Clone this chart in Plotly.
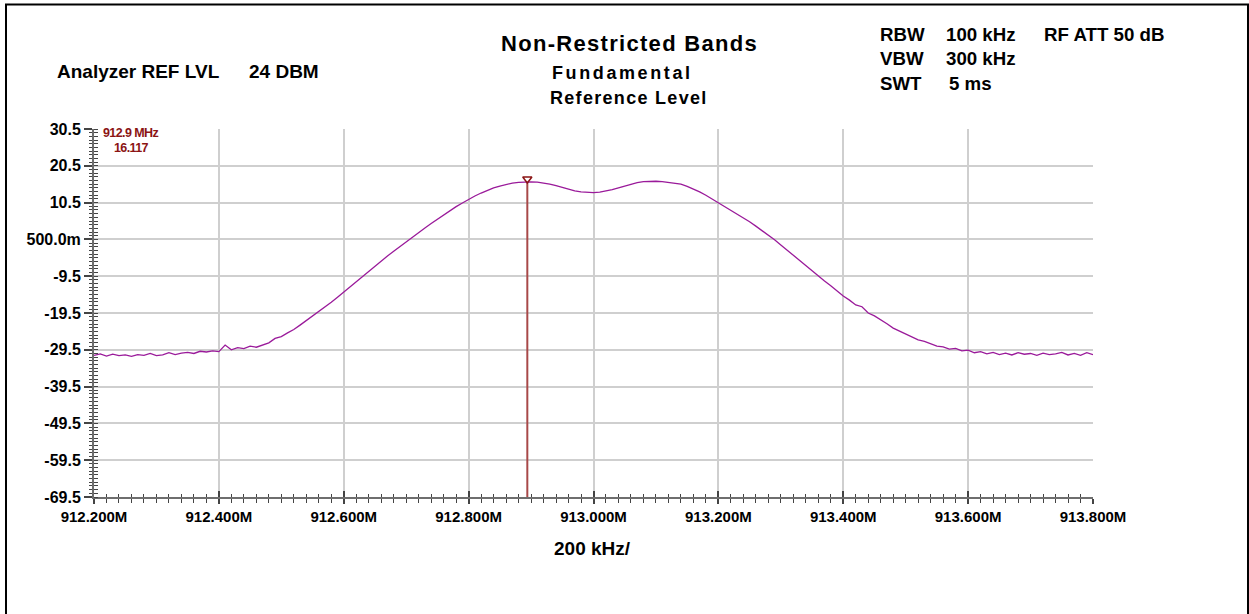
import plotly.graph_objects as go

# ---------------- data ----------------
freq_start = 912.20
freq_step = 0.01
level_dbm = [
    -31.0, -30.6, -31.2, -30.7, -31.1, -30.9, -31.3, -30.8, -31.0, -30.5,
    -31.1, -30.9, -30.3, -30.8, -30.4, -30.2, -30.5, -29.9, -30.1, -29.8,
    -30.0, -28.2, -29.5, -28.9, -29.2, -28.5, -28.8, -28.2, -27.6, -26.4,
    -25.9, -24.9, -24.0, -22.8, -21.6, -20.3, -19.1, -17.9, -16.6, -15.2,
    -13.8, -12.4, -10.9, -9.5, -8.0, -6.6, -5.3, -4.0, -2.7, -1.4,
    -0.1, 1.1, 2.4, 3.6, 4.8, 6.0, 7.2, 8.3, 9.4, 10.4,
    11.4, 12.3, 13.1, 13.9, 14.5, 15.0, 15.5, 15.8, 16.0, 16.1,
    16.117, 16.05, 15.85, 15.5, 15.1, 14.6, 14.1, 13.7, 13.4, 13.25,
    13.2, 13.35, 13.6, 14.0, 14.5, 15.0, 15.5, 15.9, 16.2, 16.3,
    16.3, 16.2, 16.0, 15.8, 15.5, 14.9, 14.2, 13.4, 12.5, 11.5,
    10.5, 9.5, 8.5, 7.5, 6.4, 5.3, 4.1, 2.9, 1.7, 0.4,
    -1.0, -2.4, -3.9, -5.4, -6.8, -8.2, -9.5, -10.8, -12.1, -13.5,
    -14.9, -16.0, -17.3, -17.8, -19.5, -20.3, -21.3, -22.4, -23.6, -24.4,
    -25.3, -25.9, -26.8, -27.2, -27.9, -28.5, -28.7, -29.3, -29.1, -29.8,
    -29.6, -30.3, -30.0, -30.6, -30.2, -30.8, -30.4, -30.9, -30.3, -30.7,
    -30.5, -31.0, -30.4, -30.8, -30.6, -30.2, -30.9, -30.5, -31.0, -30.3,
    -30.8,
]
freqs = [round(freq_start + i * freq_step, 4) for i in range(len(level_dbm))]

marker_freq = 912.894
marker_level = 16.117
marker_label = "912.9 MHz"
marker_value_label = "16.117"

x_tick_vals = [912.2, 912.4, 912.6, 912.8, 913.0, 913.2, 913.4, 913.6, 913.8]
x_tick_text = ["912.200M", "912.400M", "912.600M", "912.800M", "913.000M",
               "913.200M", "913.400M", "913.600M", "913.800M"]
y_tick_vals = [30.5, 20.5, 10.5, 0.5, -9.5, -19.5, -29.5, -39.5, -49.5, -59.5, -69.5]
y_tick_text = ["30.5", "20.5", "10.5", "500.0m", "-9.5", "-19.5", "-29.5",
               "-39.5", "-49.5", "-59.5", "-69.5"]
x_range = [912.2, 913.8]
y_range = [-69.5, 30.5]

title_main = "Non-Restricted Bands"
title_sub1 = "Fundamental"
title_sub2 = "Reference Level"
ref_text_a = "Analyzer REF LVL"
ref_text_b = "24 DBM"
x_label = "200 kHz/"

# ---------------- figure ----------------
FONT = "Liberation Sans, Arial, sans-serif"
MARK = "#8B1414"
TRACE = "#9A1A9A"
AXIS = "#6E6E6E"
GRID = "#CFCFCF"

fig = go.Figure()

fig.add_trace(go.Scatter(
    x=[marker_freq, marker_freq], y=[y_range[0], marker_level],
    mode="lines", line=dict(color="#A84848", width=2),
    hoverinfo="skip", showlegend=False))

fig.add_trace(go.Scatter(
    x=freqs, y=level_dbm, mode="lines",
    line=dict(color=TRACE, width=1.3), showlegend=False))

fig.add_trace(go.Scatter(
    x=[marker_freq], y=[marker_level + 0.8], mode="markers",
    marker=dict(symbol="triangle-down-open", size=8, color=MARK,
                line=dict(width=1.5, color=MARK)),
    showlegend=False))

fig.add_trace(go.Scatter(x=[x_range[0]], y=[y_range[0]], xaxis="x2", yaxis="y2",
                         mode="markers", marker=dict(opacity=0), showlegend=False,
                         hoverinfo="skip"))

xtickfont = dict(family=FONT, size=15, color="#000000", weight="bold")
ytickfont = dict(family=FONT, size=16, color="#000000", weight="bold")

fig.update_layout(
    width=1249, height=614,
    margin=dict(l=94, r=156, t=129, b=117),
    paper_bgcolor="white", plot_bgcolor="white",
    font=dict(family=FONT),
    xaxis=dict(
        range=x_range, tickvals=x_tick_vals, ticktext=x_tick_text,
        tickfont=xtickfont, ticks="outside", ticklen=5, tickwidth=1.5,
        tickcolor="#444444",
        showgrid=True, gridcolor=GRID, gridwidth=1.5, zeroline=False,
        showline=True, linecolor=AXIS, linewidth=2,
        minor=dict(dtick=0.02, tick0=912.2, ticks="outside", ticklen=3.5,
                   tickwidth=1, tickcolor="#444444", showgrid=False),
        fixedrange=True,
    ),
    yaxis=dict(
        range=y_range, tickvals=y_tick_vals, ticktext=y_tick_text,
        tickfont=ytickfont, ticks="outside", ticklen=8, tickwidth=1.5,
        tickcolor="#444444",
        showgrid=True, gridcolor=GRID, gridwidth=1.5, zeroline=False,
        showline=True, linecolor=AXIS, linewidth=2,
        minor=dict(dtick=1, tick0=0.5, ticks="outside", ticklen=3.5,
                   tickwidth=1, tickcolor="#444444", showgrid=False),
        fixedrange=True,
    ),
    xaxis2=dict(
        range=x_range, overlaying="x", anchor="y2", side="bottom",
        tickvals=x_tick_vals, showticklabels=False, ticks="inside", ticklen=6,
        tickwidth=1.5, tickcolor="#444444", showgrid=False, zeroline=False,
        showline=False,
        minor=dict(dtick=0.02, tick0=912.2, ticks="inside", ticklen=3.5,
                   tickwidth=1, tickcolor="#444444", showgrid=False),
    ),
    yaxis2=dict(
        range=y_range, overlaying="y", anchor="x2", side="left",
        tickvals=y_tick_vals, showticklabels=False, ticks="", showgrid=False,
        zeroline=False, showline=False,
        minor=dict(dtick=1, tick0=0.5, ticks="inside", ticklen=3.5,
                   tickwidth=1, tickcolor="#444444", showgrid=False),
    ),
    showlegend=False,
)

def px_x(px):
    return (px - 94) / 999.0

def px_y(py):
    return (496.7 - py) / 367.4

def txt(text, x, y, size, xanchor="left", color="#000000", spacing=None):
    if spacing is not None:
        text = '<span style="letter-spacing:%spx">%s</span>' % (spacing, text)
    fig.add_annotation(text=text, x=px_x(x), y=px_y(y), xref="paper", yref="paper",
                       xanchor=xanchor, yanchor="middle", showarrow=False,
                       borderpad=0,
                       font=dict(family=FONT, size=size, color=color, weight="bold"))

txt(title_main, 629, 44, 22, xanchor="center", spacing=1.3)
txt(title_sub1, 622, 73.8, 18, xanchor="center", spacing=2.6)
txt(title_sub2, 629, 98.5, 18, xanchor="center", spacing=1.3)
txt(ref_text_a, 56, 72, 19)
txt(ref_text_b, 248, 72, 19)
txt("RBW", 879, 34.7, 18.7)
txt("100 kHz", 945, 34.7, 18.7)
txt("RF ATT 50 dB", 1042.5, 34.7, 18.7)
txt("VBW", 879, 58.7, 18.7)
txt("300 kHz", 945, 58.7, 18.7)
txt("SWT", 879, 84, 18.7)
txt("5 ms", 948, 84, 18.7)
txt(x_label, 592, 548, 19, xanchor="center")
txt(marker_label, 130.5, 133, 12.5, xanchor="center", color=MARK, spacing=-0.6)
txt(marker_value_label, 131.5, 148.5, 12.5, xanchor="center", color=MARK, spacing=-0.6)

fig.add_shape(type="rect", xref="paper", yref="paper",
              x0=px_x(6), x1=px_x(1248), y0=px_y(625), y1=px_y(5),
              line=dict(color="black", width=2), layer="below")

fig.write_html("out.html")
